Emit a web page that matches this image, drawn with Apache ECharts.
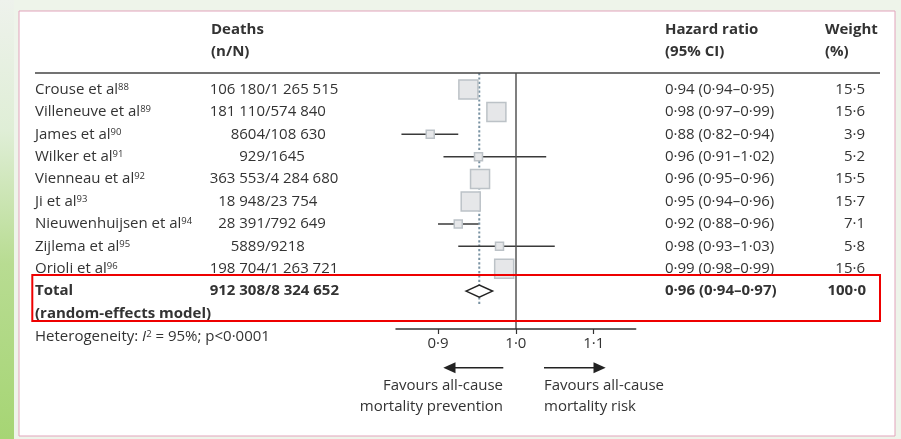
<!DOCTYPE html>
<html><head><meta charset="utf-8">
<script src="https://cdn.jsdelivr.net/npm/echarts@6/dist/echarts.min.js"></script>
<style>html,body{margin:0;padding:0;background:#fff}#c{width:901px;height:439px}</style>
</head><body><div id="c"></div>
<script>
// ---------- data ----------
const studies   = ['Crouse et al','Villeneuve et al','James et al','Wilker et al','Vienneau et al','Ji et al','Nieuwenhuijsen et al','Zijlema et al','Orioli et al'];
const refs      = ['88','89','90','91','92','93','94','95','96'];
const deathsN   = ['106 180','181 110','8604','929','363 553','18 948','28 391','5889','198 704'];
const deathsD   = ['1 265 515','574 840','108 630','1645','4 284 680','23 754','792 649','9218','1 263 721'];
const hrLabels  = ['0·94 (0·94–0·95)','0·98 (0·97–0·99)','0·88 (0·82–0·94)','0·96 (0·91–1·02)','0·96 (0·95–0·96)','0·95 (0·94–0·96)','0·92 (0·88–0·96)','0·98 (0·93–1·03)','0·99 (0·98–0·99)'];
const weights   = [15.5,15.6,3.9,5.2,15.5,15.7,7.1,5.8,15.6];
// estimates as drawn in the plot
const hrPoint   = [0.939,0.975,0.890,0.952,0.954,0.942,0.926,0.979,0.985];
const ciLow     = [0.934,0.970,0.853,0.907,0.949,0.937,0.900,0.926,0.980];
const ciHigh    = [0.944,0.980,0.926,1.039,0.959,0.947,0.952,1.050,0.990];
const totalN    = '912 308', totalD = '8 324 652';
const totalLabel = '0·96 (0·94–0·97)', totalWeight = '100·0';
const pooled    = [0.953, 0.936, 0.970]; // est, low, high
const xTicks    = [0.9, 1.0, 1.1];

// ---------- chart ----------
const chart = echarts.init(document.getElementById('c'), null, {renderer:'canvas'});
const FONT = '"Open Sans", "Noto Sans", sans-serif';
const TXT = '#333';
const nRows = studies.length; // total row index = nRows

const ciData = studies.map((s,i)=>[ciLow[i], ciHigh[i], i]);
const sqData = studies.map((s,i)=>[hrPoint[i], i, weights[i]]);

chart.setOption({
  backgroundColor: '#eef4ea',
  animation: false,
  grid: {left: 396, right: 265.3, top: 73, bottom: 110, containLabel: false, z: 5},
  xAxis: {
    type: 'value', min: 0.846, max: 1.154, z: 5,
    axisLine: {show: true, onZero: false, lineStyle: {color: '#333', width: 1.5}},
    axisTick: {show: true, customValues: xTicks, length: 5, lineStyle: {color: '#333', width: 1.2}},
    axisLabel: {show: true, customValues: xTicks, margin: 7, color: TXT, fontFamily: FONT, fontSize: 15,
      formatter: v => v.toFixed(1).replace('.', '·')},
    splitLine: {show: false}
  },
  yAxis: {type: 'value', inverse: true, min: -0.737, max: 10.692, show: false},
  series: [
    { // reference line at 1
      type: 'line', data: [], silent: true,
      markLine: {symbol: 'none', silent: true, label: {show: false},
        lineStyle: {color: '#555', width: 1.5, type: 'solid'},
        data: [{xAxis: 1}]}
    },
    { // pooled dotted line
      type: 'line', symbol: 'none', silent: true,
      data: [[pooled[0], -0.737], [pooled[0], 9.62]],
      lineStyle: {color: '#7a93a3', width: 2, type: [2.2, 2.2]}, z: 1
    },
    { // CI lines
      type: 'custom', silent: true, z: 2,
      data: ciData,
      renderItem: (params, api) => {
        const p1 = api.coord([api.value(0), api.value(2)]);
        const p2 = api.coord([api.value(1), api.value(2)]);
        return {type: 'line', shape: {x1: p1[0], y1: p1[1], x2: p2[0], y2: p2[1]},
          style: {stroke: '#3a3a3a', lineWidth: 1.5}};
      }
    },
    { // weight squares
      type: 'scatter', symbol: 'rect', z: 3,
      data: sqData,
      symbolSize: v => v[2] > 10 ? 19 : 8,
      itemStyle: {color: '#e6e7e9', borderColor: '#bcc2c7', borderWidth: 1.5, opacity: 1}
    },
    { // pooled diamond
      type: 'custom', silent: true, z: 4,
      data: [[pooled[1], pooled[0], pooled[2], nRows]],
      renderItem: (params, api) => {
        const l = api.coord([api.value(0), api.value(3)]);
        const c = api.coord([api.value(1), api.value(3)]);
        const r = api.coord([api.value(2), api.value(3)]);
        const h = 6;
        return {type: 'polygon', shape: {points: [[l[0], l[1]], [c[0], c[1]-h], [r[0], r[1]], [c[0], c[1]+h]]},
          style: {fill: '#fff', stroke: '#222', lineWidth: 1.5}};
      }
    }
  ]
});

// ---------- table text via axis scale ----------
const rowY = i => chart.convertToPixel({yAxisIndex: 0}, i);
const g = [];
const txt = (x, y, text, opts={}) => g.push({type:'text', x, y, z: 50, silent: true,
  style: Object.assign({text, fill: TXT, font: `${opts.bold?'bold ':''}${opts.size||15}px ${FONT}`,
    textAlign: opts.align||'left', textVerticalAlign: 'middle'}, opts.style||{})});

// background decorations
g.push({type:'rect', z: -10, shape:{x:0,y:0,width:14,height:439},
  style:{fill:{type:'linear',x:0,y:0,x2:0,y2:1,colorStops:[{offset:0,color:'#eef2ec'},{offset:0.3,color:'#dfeed6'},{offset:0.6,color:'#b8dc92'},{offset:1,color:'#a6d574'}]}}});
g.push({type:'rect', z: -9, shape:{x:19,y:11,width:876,height:425}, style:{fill:'#fff', stroke:'#e2a3bb', lineWidth:1}});

// headers
txt(211, 30, 'Deaths', {bold:true});
txt(211, 52, '(n/N)', {bold:true});
txt(665, 30, 'Hazard ratio', {bold:true});
txt(665, 52, '(95% CI)', {bold:true});
txt(825, 30, 'Weight', {bold:true});
txt(825, 52, '(%)', {bold:true});
g.push({type:'line', z: 50, shape:{x1:35,y1:73,x2:880,y2:73}, style:{stroke:'#444', lineWidth:1.5}});

const SLASH = 265;
studies.forEach((s, i) => {
  const y = rowY(i);
  g.push({type:'text', x: 35, y, z: 50, silent: true, style: {
    text: `{n|${s}}{s|${refs[i]}}`, textVerticalAlign: 'middle',
    rich: {n: {fontFamily: FONT, fontSize: 15, fill: TXT, color: TXT},
           s: {fontFamily: FONT, fontSize: 9.5, fill: TXT, color: TXT, verticalAlign: 'top', lineHeight: 12}}}});
  txt(SLASH, y, deathsN[i], {align:'right'});
  txt(SLASH, y, '/' + deathsD[i]);
  txt(665, y, hrLabels[i]);
  txt(865, y, weights[i].toFixed(1).replace('.', '·'), {align:'right'});
});
const yt = rowY(nRows);
txt(35, yt, 'Total', {bold:true});
txt(35, yt + 22.5, '(random-effects model)', {bold:true});
txt(SLASH, yt, totalN, {bold:true, align:'right'});
txt(SLASH, yt, '/' + totalD, {bold:true});
txt(665, yt, totalLabel, {bold:true});
txt(866, yt, totalWeight, {bold:true, align:'right'});

g.push({type:'text', x: 35, y: 336.5, z: 50, silent: true, style: {
  text: '{n|Heterogeneity: }{i|I}{s|2}{n| = 95%; p<0·0001}', textVerticalAlign: 'middle',
  rich: {n:{fontFamily: FONT, fontSize: 15, fill: TXT}, i:{fontFamily: FONT, fontSize: 15, fontStyle:'italic', fill: TXT},
         s:{fontFamily: FONT, fontSize: 9.5, fill: TXT, verticalAlign:'top', lineHeight: 12}}}});

// arrows
const ay = 367.7;
g.push({type:'line', z: 50, shape:{x1:452,y1:ay,x2:503.3,y2:ay}, style:{stroke:'#222', lineWidth:1.5}});
g.push({type:'polygon', z: 50, shape:{points:[[443.3,ay],[455.5,ay-5.5],[455.5,ay+5.5]]}, style:{fill:'#222'}});
g.push({type:'line', z: 50, shape:{x1:544,y1:ay,x2:596,y2:ay}, style:{stroke:'#222', lineWidth:1.5}});
g.push({type:'polygon', z: 50, shape:{points:[[605.7,ay],[593.5,ay-5.5],[593.5,ay+5.5]]}, style:{fill:'#222'}});
txt(503, 385.7, 'Favours all-cause', {align:'right'});
txt(503, 406.7, 'mortality prevention', {align:'right'});
txt(544, 385.7, 'Favours all-cause');
txt(544, 406.7, 'mortality risk');

// highlight box
g.push({type:'rect', z: 60, shape:{x:32.3,y:275,width:847.7,height:46}, style:{fill:'none', stroke:'#ee0000', lineWidth:2}});

chart.setOption({graphic: {elements: g}});
</script>
</body></html>
